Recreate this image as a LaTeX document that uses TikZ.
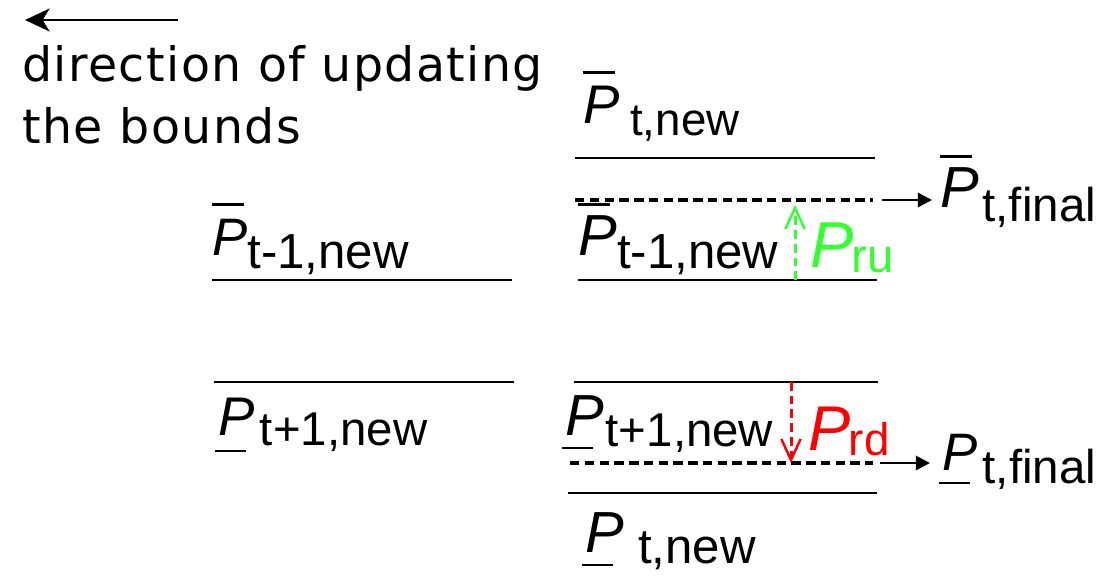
\documentclass[tikz,border=0pt]{standalone}
\usepackage{fontspec}
\setmainfont{Liberation Sans}
\newfontfamily\dirfont[LetterSpace=3]{DejaVu Sans}
\usetikzlibrary{arrows.meta, positioning}

\definecolor{rugreen}{RGB}{51,255,51}
\definecolor{rdred}{RGB}{255,0,0}

% P with a bar over it / under it, and a lowered subscript
\newcommand{\Pover}[1]{{\fontsize{#1}{#1}\selectfont\rlap{\rule[28pt]{18pt}{1.4pt}}\textit{P}}}
\newcommand{\Punder}[2][8pt]{{\fontsize{#2}{#2}\selectfont\rlap{\hspace*{-2pt}\rule[-#1]{18pt}{1.4pt}}\textit{P}}}
\newcommand{\Psub}[4]{\hspace*{#1}\raisebox{-#2}{\fontsize{#3}{#3}\selectfont #4}}

\begin{document}
\begin{tikzpicture}[x=0.02cm, y=0.02cm,
    lbl/.style={anchor=base west, inner sep=0pt},
    bound/.style={line width=1.6pt},
    finaldash/.style={line width=1.9pt, dash pattern=on 5.4pt off 3pt},
    finalarrow/.style={line width=1.6pt, -{Triangle[length=8pt,width=8pt]}},
    steparrow/.style={line width=1.7pt, dash pattern=on 5pt off 2.8pt, -{Straight Barb[length=12pt,width=11pt,line width=1.4pt]}}]
    \useasboundingbox (0,0) rectangle (1113,-585);

    % direction note
    \coordinate (dirtail) at (178,-20);
    \coordinate (dirhead) at (25,-20);
    \draw[line width=1.7pt, -{Stealth[length=14pt,width=13pt,inset=4pt]}] (dirtail) -- (dirhead);
    \node[anchor=north west, inner sep=0pt, align=left, font=\dirfont\fontsize{27}{35.3}\selectfont] (dir) at (22,-45) {direction of updating\\the bounds};

    % bounds of step t-1 and t+1
    \node[lbl] (plup) at (212,-255) {\Pover{30}\Psub{0pt}{7.4pt}{28}{t-1,new}};
    \draw[bound] (212,-280) -- (512,-280);
    \draw[bound] (214,-382) -- (514,-382);
    \node[lbl] (pllow) at (218,-435) {\Punder[9.7pt]{31}\Psub{3pt}{5.7pt}{27}{t+1,new}};

    % bounds of step t
    \node[lbl] (ptnew) at (583,-123) {\Pover{31}\Psub{6pt}{7pt}{26}{t,new}};
    \draw[bound] (575,-158) -- (875,-158);
    \node[lbl] (pmup) at (578,-255) {\Pover{33}\Psub{0pt}{7.4pt}{28}{t-1,new}};
    \draw[bound] (578,-280) -- (877,-280);
    \draw[bound] (574,-382) -- (878,-382);
    \node[lbl] (pmlow) at (565,-435) {\Punder{33}\Psub{1pt}{6.8pt}{27}{t+1,new}};
    \draw[bound] (568,-493) -- (877,-493);
    \node[lbl] (ptnewlow) at (585,-552) {\Punder{33}\Psub{8pt}{6.3pt}{28}{t,new}};

    % final bounds
    \node[lbl] (pfinup) at (940,-207) {\Pover{33}\Psub{2pt}{8.5pt}{27}{t,final}};
    \node[lbl] (pfinlow) at (942,-470) {\Punder{30}\Psub{3pt}{7.4pt}{27}{t,final}};
    \coordinate (upstart) at (575,-200);
    \coordinate (upend) at (873,-200);
    \coordinate (uparr) at (882,-200);
    \coordinate (uptip) at (932,-200);
    \draw[finaldash] (upstart) -- (upend);
    \draw[finalarrow] (uparr) -- (uptip);
    \coordinate (lowstart) at (570,-463);
    \coordinate (lowend) at (873,-463);
    \coordinate (lowarr) at (880,-463);
    \coordinate (lowtip) at (930,-463);
    \draw[finaldash] (lowstart) -- (lowend);
    \draw[finalarrow] (lowarr) -- (lowtip);

    % ramp limits
    \coordinate (rufoot) at (795,-280);
    \coordinate (rutop) at (795,-205);
    \draw[steparrow, rugreen] (rufoot) -- (rutop);
    \node[lbl, text=rugreen] (pru) at (810,-267) {{\fontsize{37}{37}\selectfont\textit{P}}\Psub{-1pt}{3.4pt}{27}{ru}};
    \coordinate (rdtop) at (791,-382);
    \coordinate (rdfoot) at (791,-463);
    \draw[steparrow, rdred] (rdtop) -- (rdfoot);
    \node[lbl, text=rdred] (prd) at (808,-450) {{\fontsize{36}{36}\selectfont\textit{P}}\Psub{-1pt}{3pt}{26}{rd}};
\end{tikzpicture}
\end{document}
